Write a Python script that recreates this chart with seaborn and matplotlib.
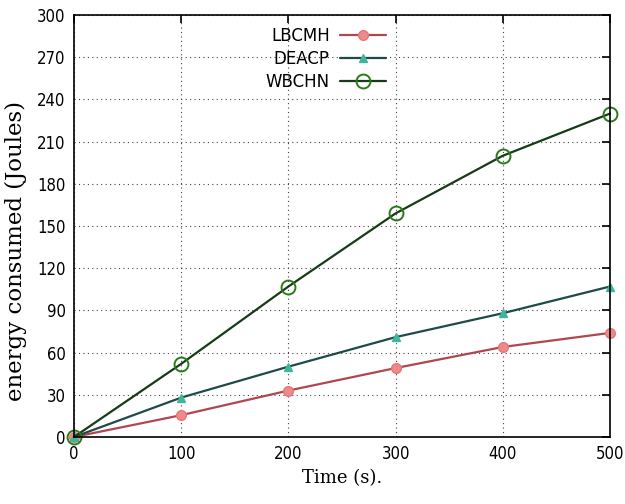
import matplotlib
matplotlib.use("Agg")
import matplotlib.pyplot as plt
import seaborn as sns
import pandas as pd

time_s = [0, 100, 200, 300, 400, 500]
lbcmh = [0, 15.5, 33, 49, 64, 74]
deacp = [0, 28, 50, 71, 88, 107]
wbchn = [0, 52, 107, 159, 200, 230]
series_names = ["LBCMH", "DEACP", "WBCHN"]
y_ticks = [0, 30, 60, 90, 120, 150, 180, 210, 240, 270, 300]
x_ticks = [0, 100, 200, 300, 400, 500]

df = pd.DataFrame({"time": time_s * 3,
                   "energy": lbcmh + deacp + wbchn,
                   "series": [s for s in series_names for _ in time_s]})

sns.set_style("white")
fig = plt.figure(figsize=(6.25, 5.04), dpi=100)
ax = fig.add_axes([0.1184, 0.133, 0.8576, 0.837])

styles = {
    "LBCMH": dict(color="#b0464e", marker="o", mfc="#f08a8a", mec="#e07a7a", ms=7),
    "DEACP": dict(color="#1e4a48", marker="^", mfc="#3fb59c", mec="#3fb59c", ms=6),
    "WBCHN": dict(color="#173a17", marker="o", mfc="none", mec="#2a7a1a", ms=10, mew=1.4),
}
for name in series_names:
    sub = df[df.series == name]
    st = styles[name]
    sns.lineplot(data=sub, x="time", y="energy", ax=ax, color=st["color"], lw=1.6,
                 marker=st["marker"], markersize=st["ms"], markerfacecolor=st["mfc"],
                 markeredgecolor=st["mec"], markeredgewidth=st.get("mew", 1.0),
                 label=name, clip_on=False)

ax.set_xlim(0, 500)
ax.set_ylim(0, 300)
ax.set_xticks(x_ticks)
ax.set_yticks(y_ticks)
ax.grid(True, linestyle=(0, (1, 3)), color="#444444", linewidth=0.8)
for sp in ax.spines.values():
    sp.set_color("black")
    sp.set_linewidth(1.2)
ax.tick_params(direction="in", length=6, width=1.2, top=True, right=True,
               labelsize=12, pad=6, colors="black")
for lab in ax.get_xticklabels() + ax.get_yticklabels():
    lab.set_fontfamily("DejaVu Sans")
    lab.set_fontstretch("condensed")
ax.set_xlabel("Time (s).", fontsize=13, family="DejaVu Serif", labelpad=4, color="black")
ax.set_ylabel("energy consumed (Joules)", fontsize=16.5, family="DejaVu Serif",
              fontweight="normal", color="black")
ax.yaxis.set_label_coords(-0.088, 0.44)

leg = ax.legend(loc="upper center", bbox_to_anchor=(0.47, 1.0), frameon=False,
                markerfirst=False, fontsize=12, handlelength=2.8, borderaxespad=0.3,
                labelspacing=0.3, handletextpad=0.6)
for t in leg.get_texts():
    t.set_color("black")

fig.savefig("out.png", dpi=100)
